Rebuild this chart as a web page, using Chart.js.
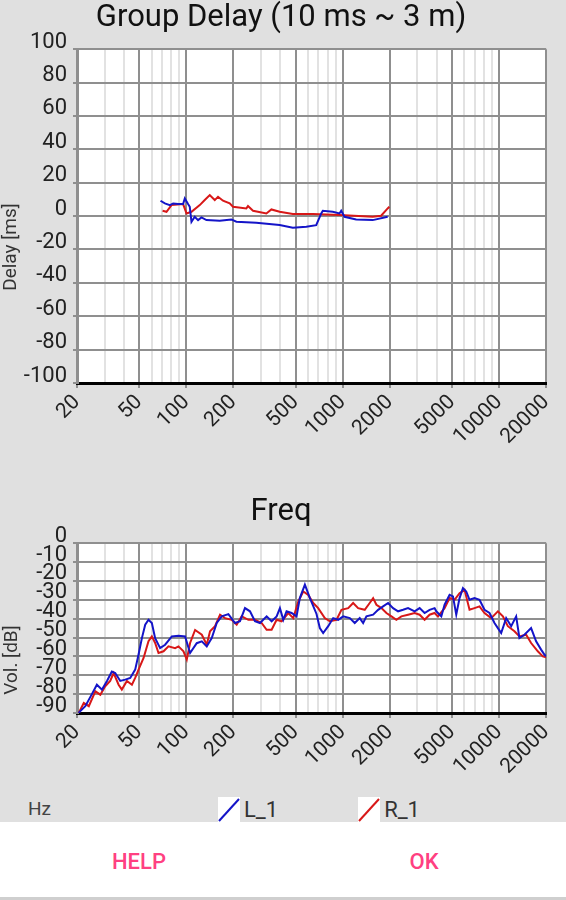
<!DOCTYPE html>
<html lang="en">
<head>
<meta charset="UTF-8">
<title>Group Delay / Freq</title>
<script src="https://cdn.jsdelivr.net/npm/chart.js"></script>
<style>
    body {
        margin: 0;
        width: 566px;
        height: 900px;
        background: #e0e0e0;
        font-family: Roboto, sans-serif;
        position: relative;
        overflow: hidden;
    }
    canvas { position: absolute; left: 0; }
    #delayChart { top: 0; }
    #freqChart { top: 494px; }

    .ytitle {
        position: absolute;
        transform: translate(-50%, -50%) rotate(-90deg);
        font-size: 19px;
        color: #333;
        white-space: nowrap;
    }

    #hz { position: absolute; left: 28px; top: 797px; font-size: 19px; color: #444; }

    #legend { position: absolute; left: 218px; top: 797px; display: flex; }
    .legend-item { display: flex; align-items: center; margin-right: 80px; }
    .legend-item svg { display: block; }
    .legend-item span { font-size: 22px; color: #333; margin-left: 4px; }

    #buttons {
        position: absolute; left: 0; top: 822px; width: 566px; height: 75px;
        background: #fff; border-bottom: 3px solid #cfcfcf;
    }
    .btn {
        position: absolute; top: 27px; transform: translateX(-50%);
        color: #ff4081; font-size: 22px; font-weight: 500;
    }
</style>
</head>
<body>

<canvas id="delayChart" width="566" height="480"></canvas>
<canvas id="freqChart" width="566" height="300"></canvas>

<div class="ytitle" style="left:9px; top:247px;">Delay [ms]</div>
<div class="ytitle" style="left:10px; top:660px;">Vol. [dB]</div>

<div id="hz">Hz</div>
<div id="legend"></div>

<div id="buttons">
    <div class="btn" style="left:139px;">HELP</div>
    <div class="btn" style="left:424px;">OK</div>
</div>

<script>
    // frequency axis: labelled ticks and every grid line
    const tickLabels = [20, 50, 100, 200, 500, 1000, 2000, 5000, 10000, 20000];
    const gridFreqs = [20, 30, 40, 50, 60, 70, 80, 90, 100, 200, 300, 400, 500, 600, 700, 800, 900,
        1000, 2000, 3000, 4000, 5000, 6000, 7000, 8000, 9000, 10000, 20000];

    // group delay (ms)
    const delayFreqL = [68.4, 72.9, 78.5, 82.4, 88.6, 95.4, 97.8, 102.6, 105.2, 107.9, 113.2, 118.9, 125, 134.5,
        163.5, 194, 209, 280, 395, 480, 585, 677, 729, 746, 864, 954, 978, 1026, 1219, 1556, 1939];
    const delayL = [9.2, 7.6, 6.6, 7.6, 7.2, 7.2, 10.6, 7.2, 5.6, -3.4, -0.4, -2.4, -0.8, -2.4,
        -2.8, -2.0, -3.4, -4.0, -5.4, -7.0, -6.4, -5.4, 1.6, 3.2, 2.6, 1.6, 3.2, -0.4, -2.0, -2.4, -0.4];
    const delayFreqR = [70.5, 74.7, 80.4, 95.4, 100.3, 107.9, 121.9, 131.2, 141.2, 152, 159.5, 171.7, 189.4, 198.8,
        242, 248, 267, 325, 350, 395, 480, 644, 954, 1556, 1760, 1939, 1988];
    const delayR = [3.2, 2.6, 6.6, 7.2, 1.6, 2.6, 6.6, 9.6, 12.6, 9.6, 11.6, 9.2, 7.6, 5.6,
        4.6, 6.0, 3.2, 1.6, 4.0, 2.6, 1.2, 1.2, 0.6, -0.4, 0.2, 4.6, 5.6];

    // frequency response (dB)
    const freqL = [
        20.5, 21.0, 22.6, 24.9, 26.8, 28.9, 31.1, 33.4, 35.1, 37.8,
        40.7, 43.8, 47.1, 49.5, 52.0, 54.6, 57.3, 60.2, 63.2, 68.0,
        73.2, 80.8, 89.1, 98.2, 105.7, 116.6, 125.6, 135.1, 145.4, 156.5,
        168.4, 185.8, 204.8, 220.4, 237.2, 255.3, 274.7, 295.7, 326.3, 351.2,
        378, 396.8, 417, 437.6, 471, 507, 532, 573, 617, 680,
        714, 750, 808, 869, 936, 1007, 1110, 1194, 1285, 1351,
        1418, 1565, 1684, 1812, 1951, 2099, 2260, 2432, 2617, 2883,
        3103, 3340, 3594, 3868, 3966, 4271, 4482, 4824, 5070, 5322,
        5586, 5872, 6164, 6470, 6964, 7494, 8066, 8682, 9344, 9822,
        10310, 11098, 11944, 12856, 13490, 14520, 16020, 17244, 18560, 19480,
        20000];
    const volL = [
        -90, -89, -86.4, -80, -75, -77.6, -73, -68, -68.8, -73,
        -72.3, -71.4, -67, -59, -50.3, -43.2, -40.6, -42.3, -50.3, -55.6,
        -53.8, -49.4, -49, -49.4, -58.2, -53, -52, -54.7, -50.3, -42.3,
        -38.8, -37.6, -42.3, -41.4, -34.4, -36.1, -41.4, -42.3, -38.8, -41.4,
        -38.8, -34.4, -40.6, -36.1, -37, -38.8, -29.1, -22, -29.1, -37.5,
        -45, -47.6, -44, -39.7, -40.6, -38.8, -39.7, -42.3, -39.7, -42.3,
        -38.8, -37.9, -35.3, -33.5, -31.7, -34.4, -36.1, -35.3, -34.4, -36.1,
        -34.4, -37, -35.3, -34.4, -36.1, -38.8, -32.6, -27.4, -28.2, -37.9,
        -29.1, -23.8, -25.6, -30, -29.1, -30, -35.3, -37, -42.3, -45,
        -47.6, -39.7, -44, -38.8, -50.3, -48.5, -45, -52, -56.4, -59,
        -60];
    const freqR = [
        20.5, 22.1, 23.8, 26.2, 28.2, 30.3, 32.6, 34.3, 36.9, 38.7,
        41.7, 44.9, 47.1, 49.5, 53.3, 57.3, 60.2, 63.2, 66.4, 71.5,
        76.9, 84.8, 89.1, 95.9, 100.7, 105.7, 113.8, 125.6, 135.1, 141.8,
        152.6, 164.3, 176.8, 195.1, 209.9, 225.9, 249.3, 274.7, 303.1, 326.3,
        351.2, 378, 406.6, 448.6, 483, 519.8, 559.4, 602, 648, 697,
        768, 827, 913, 982, 1084, 1166, 1255, 1383, 1488, 1565,
        1643, 1768, 1903, 2048, 2203, 2372, 2617, 2883, 3103, 3340,
        3594, 3868, 4066, 4482, 4824, 5190, 5586, 6012, 6470, 6964,
        7494, 8066, 8900, 9822, 10572, 11378, 12538, 13490, 14890, 16020,
        17680, 19026, 20000];
    const volR = [
        -90, -84.7, -86.4, -78.5, -80.3, -75.8, -73, -68.8, -75, -77.6,
        -73, -75, -71.4, -67, -60.8, -52, -49.4, -52.9, -58.2, -57.3,
        -54.7, -55.6, -54.7, -57.3, -61.7, -52.9, -46, -48.5, -53.8, -46.7,
        -44, -37.9, -39.7, -40.6, -43.2, -38.8, -40.6, -40.6, -42.3, -45.9,
        -45.9, -40.6, -41.4, -37, -39.7, -30.9, -25.6, -27.4, -31.7, -34.4,
        -39.7, -41.4, -40.6, -35.3, -34.4, -31.7, -34.4, -35.3, -31.7, -29.1,
        -32.6, -34.4, -37, -38.8, -40.6, -38.8, -37.9, -37, -37.9, -40.6,
        -37.9, -37, -38.8, -34.4, -29.1, -30, -26.5, -24.7, -35.3, -34.4,
        -33.5, -37, -39.7, -36.1, -38.8, -44, -46.7, -49.4, -48.5, -52.9,
        -57.3, -60, -60.5];

    const seriesNames = ['L_1', 'R_1'];
    const seriesColors = ['#1414c8', '#d81818'];

    Chart.defaults.font.family = 'Roboto';

    // white plot area on the grey page
    const plotBg = {
        id: 'plotBg',
        beforeDraw(chart) {
            const { ctx, chartArea: a } = chart;
            ctx.save();
            ctx.fillStyle = '#ffffff';
            ctx.fillRect(a.left, a.top, a.right - a.left, a.bottom - a.top);
            ctx.restore();
        }
    };

    function toPoints(xs, ys) {
        return xs.map((x, i) => ({ x: x, y: ys[i] }));
    }

    function lineSet(i, xs, ys) {
        return {
            label: seriesNames[i],
            data: toPoints(xs, ys),
            borderColor: seriesColors[i],
            borderWidth: 2,
            pointRadius: 0,
            tension: 0
        };
    }

    function freqAxis(axisHeight) {
        return {
            type: 'logarithmic',
            min: 20,
            max: 20000,
            afterBuildTicks: s => { s.ticks = gridFreqs.map(v => ({ value: v })); },
            afterFit: s => { s.height = axisHeight; },
            ticks: {
                autoSkip: false,
                minRotation: 45,
                maxRotation: 45,
                padding: 2,
                color: '#222',
                font: { size: 21 },
                callback: v => tickLabels.includes(v) ? String(v) : ''
            },
            grid: {
                color: c => tickLabels.includes(c.tick.value) ? '#8f8f8f' : '#e2e2e2',
                tickColor: c => tickLabels.includes(c.tick.value) ? '#8f8f8f' : 'rgba(0,0,0,0)',
                lineWidth: 2,
                tickLength: 5
            },
            border: { color: '#000', width: 3 }
        };
    }

    function valueAxis(min, max, step) {
        return {
            min: min,
            max: max,
            afterFit: s => { s.width = 62; },
            ticks: {
                stepSize: step,
                autoSkip: false,
                padding: 6,
                labelOffset: -7,
                color: '#222',
                font: { size: 22 }
            },
            grid: { color: '#8f8f8f', lineWidth: 2, tickLength: 4 },
            border: { color: '#8f8f8f', width: 3 }
        };
    }

    function chartOptions(title, axisHeight, min, max, step) {
        return {
            responsive: false,
            animation: false,
            layout: { padding: { left: 15, right: 19, top: 0, bottom: 0 } },
            plugins: {
                legend: { display: false },
                tooltip: { enabled: false },
                title: {
                    display: true,
                    text: title,
                    color: '#111',
                    font: { size: 31, weight: 'normal', lineHeight: 1.2 },
                    padding: { top: 0, bottom: 12 }
                }
            },
            scales: {
                x: freqAxis(axisHeight),
                y: valueAxis(min, max, step)
            }
        };
    }

    new Chart(document.getElementById('delayChart'), {
        type: 'line',
        data: { datasets: [lineSet(0, delayFreqL, delayL), lineSet(1, delayFreqR, delayR)] },
        options: chartOptions('Group Delay (10 ms ~ 3 m)', 97, -100, 100, 20),
        plugins: [plotBg]
    });

    const freqChart = new Chart(document.getElementById('freqChart'), {
        type: 'line',
        data: { datasets: [lineSet(0, freqL, volL), lineSet(1, freqR, volR)] },
        options: chartOptions('Freq', 81, -90, 0, 10),
        plugins: [plotBg]
    });

    // legend below the charts, built from the datasets
    const legend = document.getElementById('legend');
    freqChart.data.datasets.forEach(ds => {
        const item = document.createElement('div');
        item.className = 'legend-item';
        item.innerHTML = '<svg width="22" height="25"><rect x="0" y="0" width="22" height="25" fill="#fff"/>' +
            '<line x1="1" y1="24" x2="21" y2="2" stroke="' + ds.borderColor + '" stroke-width="2"/></svg>' +
            '<span>' + ds.label + '</span>';
        legend.appendChild(item);
    });
</script>

</body>
</html>
